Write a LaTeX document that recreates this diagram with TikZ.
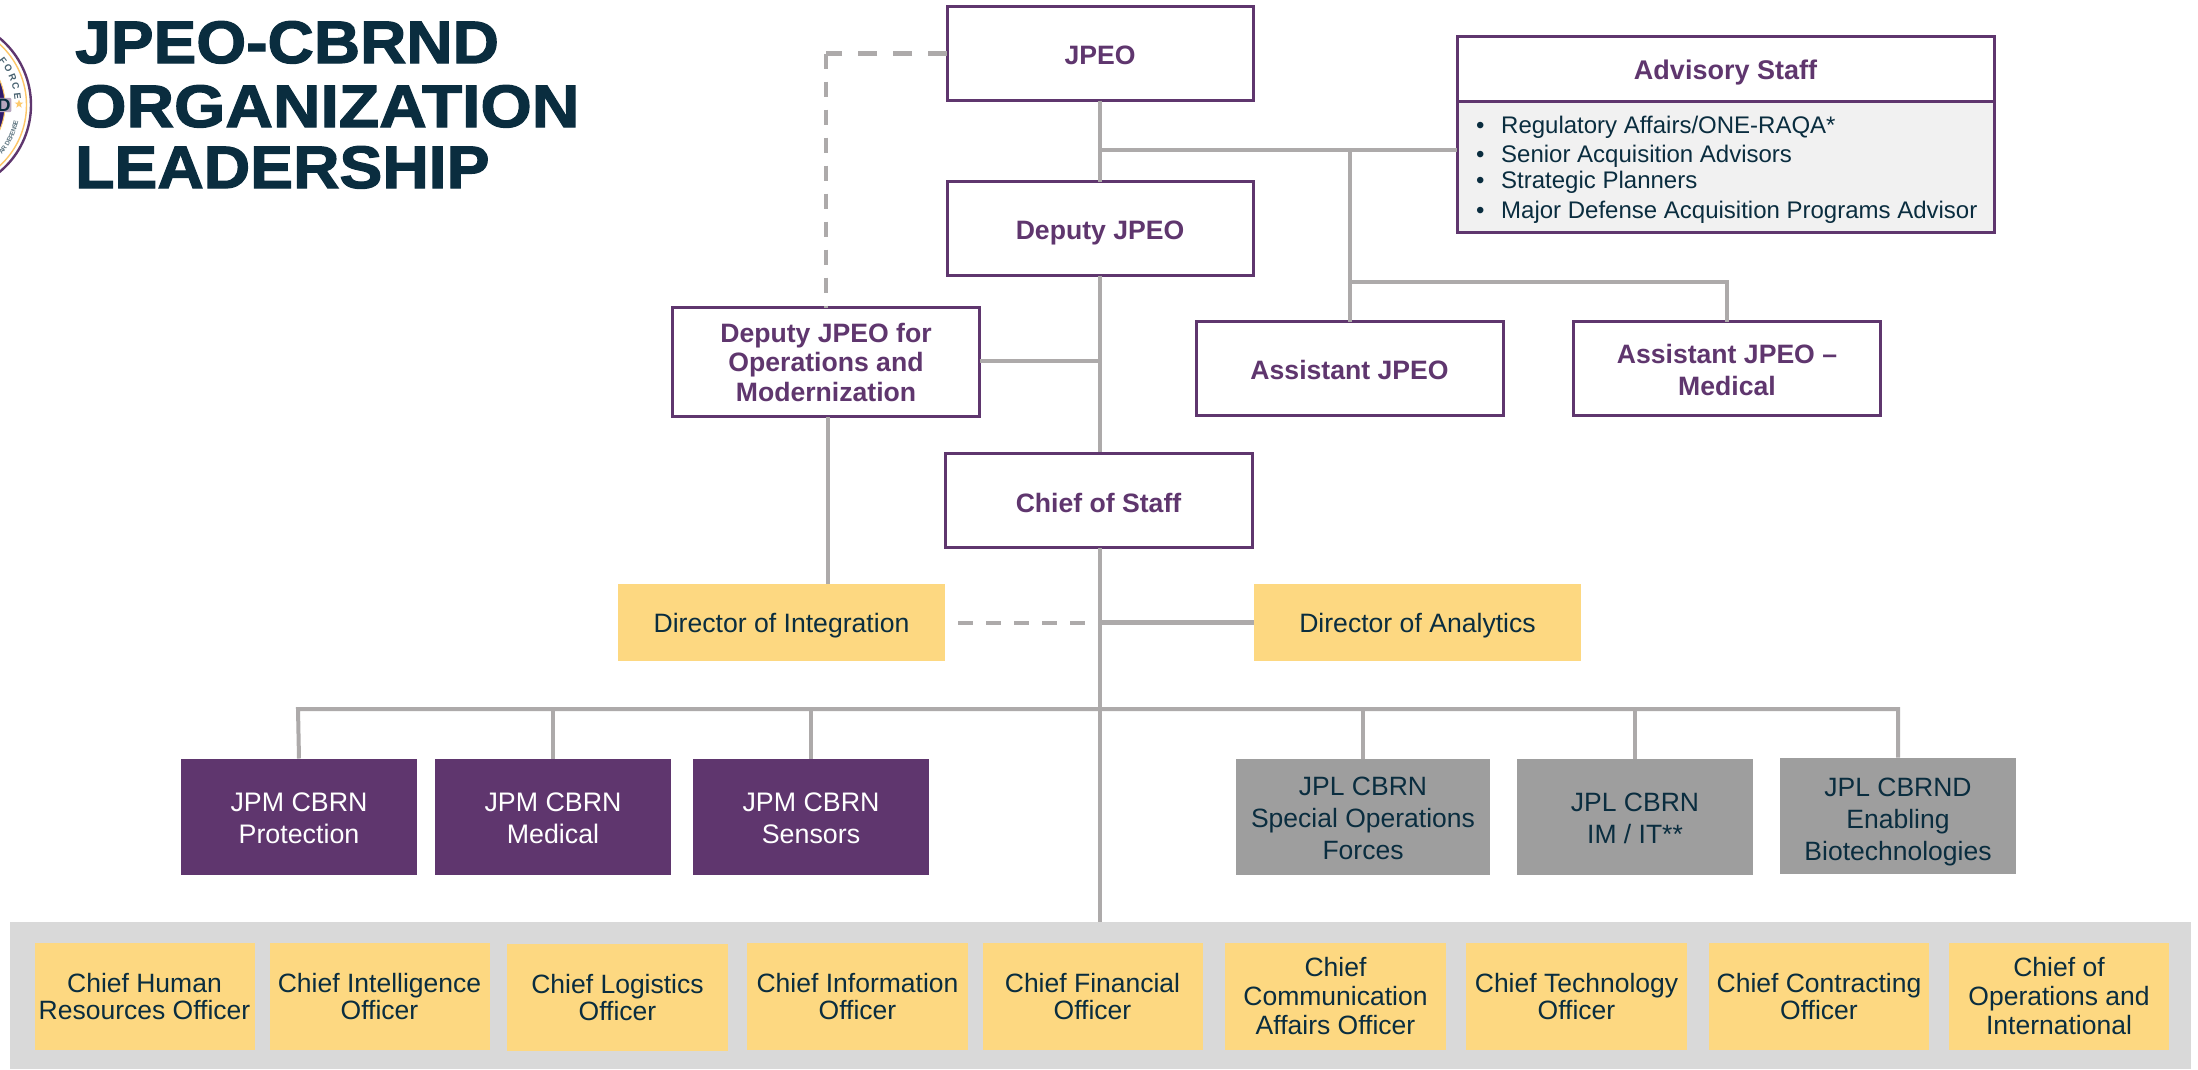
\documentclass[tikz,border=0pt]{standalone}
\usepackage{fontspec}
\setmainfont{Liberation Sans}
\newfontfamily\titlefont[FakeStretch=1.09,FakeBold=2.0]{Liberation Sans Bold}
\usetikzlibrary{shapes.geometric}
\definecolor{ink}{HTML}{0A2D3F}
\definecolor{plum}{HTML}{5F366E}
\definecolor{wire}{HTML}{ADAAAA}
\definecolor{sun}{HTML}{FDD881}
\definecolor{slate}{HTML}{9E9E9E}
\definecolor{bandgrey}{HTML}{D9D9D9}
\definecolor{panel}{HTML}{F1F1F1}
\newcommand{\lift}[1]{\rule{0pt}{#1pt}}
\tikzset{
  box/.style={rectangle,inner sep=0pt,outer sep=0pt,align=center,anchor=center},
  lead/.style={box,draw=plum,line width=3pt,fill=white,text=plum,text depth=0pt,font=\fontsize{26.6}{32}\selectfont\bfseries},
  yellowbox/.style={box,fill=sun,text=ink,text depth=0pt,font=\fontsize{26.6}{30}\selectfont,minimum height=77pt,minimum width=327pt},
  jpm/.style={box,fill=plum,text=white,text depth=0pt,font=\fontsize{26.8}{32}\selectfont,minimum height=116pt,minimum width=236pt},
  jpl/.style={box,fill=slate,text=ink,text depth=0pt,font=\fontsize{26.5}{32}\selectfont,minimum height=116pt},
  chief/.style={box,fill=sun,text=ink,font=\fontsize{26.5}{26.7}\selectfont,minimum height=107pt},
  wireline/.style={draw=wire,line width=3.6pt},
  dashline/.style={draw=wire,line width=4pt,dash pattern=on 15pt off 13pt},
  titleline/.style={anchor=base west,inner sep=0pt,text=ink,transform shape,font=\titlefont\fontsize{60}{60}\selectfont},
  listline/.style={anchor=base west,inner sep=0pt,text=ink,font=\fontsize{24}{26}\selectfont},
}
\begin{document}
\begin{tikzpicture}[x=1pt,y=-1pt]
\useasboundingbox[fill=white] (0,0) rectangle (2198,1069);
% seal
\begin{scope}
\clip (0,0) rectangle (60,200);
\coordinate (sealc) at (-56,105);
\fill[white] (sealc) circle[radius=88];
\draw[plum,line width=2.4pt] (sealc) circle[radius=87];
\draw[sun!80!orange,line width=1.4pt] (sealc) circle[radius=82.5];
\fill[fill=plum!70!blue!70!black,draw=sun!80!orange,line width=1pt] (sealc) circle[radius=61];
\foreach \ch/\a/\nm in {F/37/a,O/29.5/b,R/22/c,C/14.5/d,E/7/e}
  \node[inner sep=0pt,text=ink!75,font=\fontsize{9.5}{10}\selectfont\bfseries,rotate=\a-90] (seal\nm) at ({-56+74*cos(\a)},{105-74*sin(\a)}) {\ch};
\foreach \ch/\a/\nm in {A/-39/f,R/-36/g,D/-31/h,E/-28/i,F/-25/j,E/-22.5/k,N/-19.5/l,S/-16.5/m,E/-14/n}
  \node[inner sep=0pt,text=ink!65,font=\fontsize{6.5}{7}\selectfont\bfseries,rotate=\a+90] (seal\nm) at ({-56+74*cos(\a)},{105-74*sin(\a)}) {\ch};
\node[inner sep=1pt,fill=plum!45!white,rounded corners=2pt,text=ink,font=\fontsize{18}{18}\selectfont\bfseries] (sealD) at (4,105) {D};
\node[star,star points=5,star point ratio=2.4,fill=sun!85!orange,inner sep=0pt,minimum size=9pt] (sealstar) at (19,104) {};
\end{scope}
% title
\node[titleline,xscale=0.98] (t1) at (75,63) {JPEO-CBRND};
\node[titleline,xscale=1.008] (t2) at (75,127) {ORGANIZATION};
\node[titleline,xscale=0.983] (t3) at (75,188) {LEADERSHIP};
% band
\node[box,fill=bandgrey,minimum width=2181pt,minimum height=147pt] (band) at (1100.5,995.5) {};
% leadership boxes
\node[lead,minimum width=306pt,minimum height=94pt] (jpeo) at (1100,53.5) {\lift{22}JPEO};
\node[lead,minimum width=306pt,minimum height=94pt] (deputy) at (1100,228.5) {\lift{22}Deputy JPEO};
\node[lead,minimum width=307pt,minimum height=109pt,font=\fontsize{26.6}{29.5}\selectfont\bfseries] (ops) at (826,362) {Deputy JPEO for\\Operations and\\Modernization};
\node[lead,minimum width=307pt,minimum height=94pt] (asst) at (1349.5,368.5) {\lift{22}Assistant JPEO};
\node[lead,minimum width=307pt,minimum height=94pt] (asstmed) at (1727,368.5) {\lift{22.5}Assistant JPEO --\\Medical};
\node[lead,minimum width=307pt,minimum height=94pt] (staff) at (1098.5,500) {\lift{25}Chief of Staff};
% advisory
\node[box,draw=plum,line width=3pt,fill=panel,minimum width=537pt,minimum height=131pt] (advbody) at (1725.5,167) {};
\node[lead,minimum width=537pt,minimum height=65pt,font=\fontsize{27}{28}\selectfont\bfseries] (advhead) at (1725.5,68.5) {\lift{22.5}Advisory Staff};
\node[listline] (l1) at (1476,133) {\makebox[25pt][l]{•}Regulatory Affairs/ONE-RAQA*};
\node[listline] (l2) at (1476,162) {\makebox[25pt][l]{•}Senior Acquisition Advisors};
\node[listline] (l3) at (1476,188) {\makebox[25pt][l]{•}Strategic Planners};
\node[listline] (l4) at (1476,218) {\makebox[25pt][l]{•}Major Defense Acquisition Programs Advisor};
% directors
\node[yellowbox] (dirint) at (781.5,622.5) {Director of Integration};
\node[yellowbox] (dirana) at (1417.5,622.5) {Director of Analytics};
% JPMs
\node[jpm] (jpm1) at (299,816.5) {\lift{22.5}JPM CBRN\\Protection};
\node[jpm] (jpm2) at (553,816.5) {\lift{22.5}JPM CBRN\\Medical};
\node[jpm] (jpm3) at (811,816.5) {\lift{22.5}JPM CBRN\\Sensors};
\node[jpl,minimum width=254pt] (jpl1) at (1363,816.5) {\lift{22.5}JPL CBRN\\Special Operations\\Forces};
\node[jpl,minimum width=236pt] (jpl2) at (1635,816.5) {\lift{22.5}JPL CBRN\\IM / IT**};
\node[jpl,minimum width=236pt] (jpl3) at (1898,815.5) {\lift{25}JPL CBRND\\Enabling\\Biotechnologies};
% chiefs
\node[chief,minimum width=220pt] (c1) at (144.5,996.5) {Chief Human\\Resources Officer};
\node[chief,minimum width=220pt] (c2) at (379.5,996.5) {Chief Intelligence\\Officer};
\node[chief,minimum width=221pt] (c3) at (617.5,997.5) {Chief Logistics\\Officer};
\node[chief,minimum width=221pt] (c4) at (857.5,996.5) {Chief Information\\Officer};
\node[chief,minimum width=220pt] (c5) at (1092.5,996.5) {Chief Financial\\Officer};
\node[chief,minimum width=221pt,font=\fontsize{26.5}{29}\selectfont] (c6) at (1335.5,996.5) {Chief\\Communication\\Affairs Officer};
\node[chief,minimum width=221pt] (c7) at (1576.5,996.5) {Chief Technology\\Officer};
\node[chief,minimum width=220pt] (c8) at (1819,996.5) {Chief Contracting\\Officer};
\node[chief,minimum width=220pt,font=\fontsize{26.5}{29}\selectfont] (c9) at (2059,996.5) {Chief of\\Operations and\\International};
% junctions
\coordinate (advj) at (1100,150);
\coordinate (advj2) at (1350,150);
\coordinate (medj) at (1350,282);
\coordinate (medj2) at (1727,282);
\coordinate (opsj) at (1100,361);
\coordinate (dashc) at (826,53.5);
\coordinate (opsb) at (828,417);
\coordinate (intt) at (828,584);
\coordinate (busl) at (298,709);
\coordinate (busr) at (1898,709);
\coordinate (busm1) at (553,709);
\coordinate (busm2) at (811,709);
\coordinate (busm3) at (1363,709);
\coordinate (busm4) at (1635,709);
\coordinate (dirj) at (1100,622.5);
\coordinate (advin) at (1457,150);
\coordinate (stafft) at (1100,452);
\coordinate (staffb) at (1100,548);
\coordinate (bandt) at (1100,922);
% connectors
\draw[wireline] (jpeo.south) -- (deputy.north);
\draw[wireline] (advj) -- (advin);
\draw[wireline] (advj2) -- (asst.north -| advj2);
\draw[wireline] (medj) -- (medj2) -- (asstmed.north);
\draw[wireline] (deputy.south) -- (stafft);
\draw[wireline] (ops.east |- opsj) -- (opsj);
\draw[wireline] (opsb) -- (intt);
\draw[wireline] (staffb) -- (bandt);
\draw[wireline,line width=4.2pt] (dirj) -- (dirana.west);
\draw[dashline,line width=4.4pt,dash pattern=on 19pt off 16pt] (jpeo.west) -- (dashc);
\draw[dashline,line width=3.6pt] (dashc) -- (ops.north);
\draw[dashline,dash phase=15pt] (dirint.east) -- (dirj);
\draw[wireline,line width=4pt,line join=miter] (jpm1.north) -- (busl) -- (busr) -- (jpl3.north);
\draw[wireline] (busm1) -- (jpm2.north);
\draw[wireline] (busm2) -- (jpm3.north);
\draw[wireline] (busm3) -- (jpl1.north);
\draw[wireline] (busm4) -- (jpl2.north);
\end{tikzpicture}
\end{document}
